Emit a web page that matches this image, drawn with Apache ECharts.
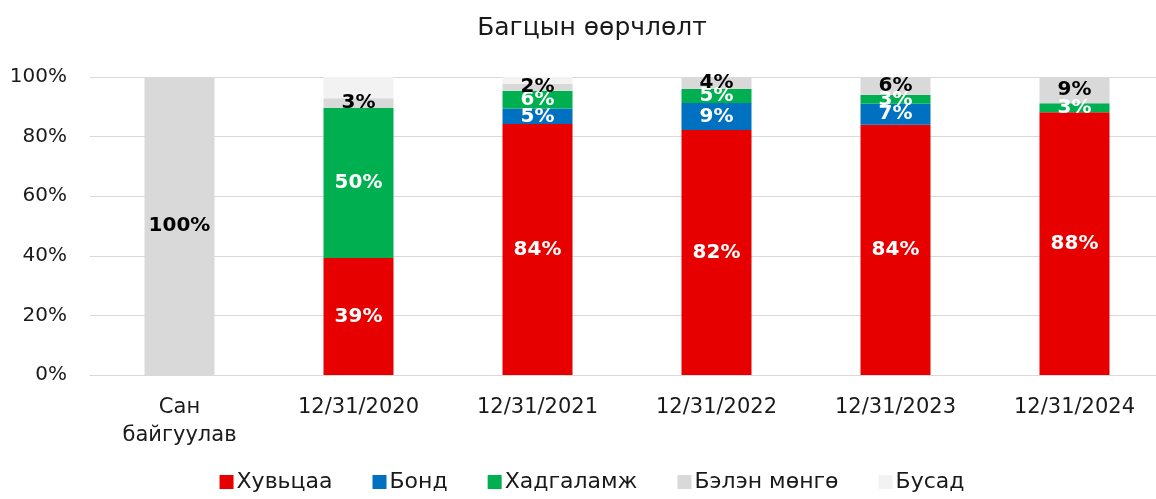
<!DOCTYPE html>
<html>
<head>
<meta charset="utf-8">
<script src="https://cdn.jsdelivr.net/npm/echarts@6/dist/echarts.min.js"></script>
<style>html,body{margin:0;padding:0;background:#fff;overflow:hidden}#c{width:1184px;height:499px}</style>
</head>
<body>
<div id="c"></div>
<script>
const categories = ['Сан\nбайгуулав', '12/31/2020', '12/31/2021', '12/31/2022', '12/31/2023', '12/31/2024'];
const seriesNames = ['Хувьцаа', 'Бонд', 'Хадгаламж', 'Бэлэн мөнгө', 'Бусад'];
const stocks   = [0, 39.3, 84.2, 82.2, 84, 88.2];
const bonds    = [0, 0, 5.2, 9.1, 7, 0];
const deposits = [0, 50.4, 6, 4.7, 3, 3];
const cash     = [100, 3.2, 2.3, 4, 6, 8.8];
const other    = [0, 7.1, 2.3, 0, 0, 0];
const yTicks = [0, 20, 40, 60, 80, 100];

const colors = ['#e60000', '#0070c0', '#00b050', '#d9d9d9', '#f2f2f2'];
const labelColors = ['#ffffff', '#ffffff', '#ffffff', '#000000', null];
const dataSets = [stocks, bonds, deposits, cash, other];
const FONT = 'DejaVu Sans';

const chart = echarts.init(document.getElementById('c'), null, {renderer: 'canvas'});
chart.setOption({
  backgroundColor: '#fff',
  animation: false,
  textStyle: {fontFamily: FONT},
  title: {
    text: 'Багцын өөрчлөлт', left: 'center', top: 11,
    textStyle: {fontFamily: FONT, fontSize: 25, fontWeight: 'normal', color: '#1a1a1a'}
  },
  legend: {
    bottom: 1, left: 'center', itemWidth: 14, itemHeight: 14, itemGap: 40, icon: 'rect',
    textStyle: {fontFamily: FONT, fontSize: 22, color: '#1a1a1a', padding: [0, 0, 0, -2]},
    data: seriesNames
  },
  grid: {left: 90, right: 20, top: 77, bottom: 124},
  xAxis: {
    type: 'category', data: categories,
    axisLine: {lineStyle: {color: '#d9d9d9', width: 1}},
    axisTick: {show: false},
    axisLabel: {fontFamily: FONT, fontSize: 21, color: '#1a1a1a', margin: 19, lineHeight: 28, interval: 0}
  },
  yAxis: {
    type: 'value', min: 0, max: 100, interval: 20,
    axisLabel: {fontFamily: FONT, fontSize: 20, color: '#1a1a1a', margin: 23, formatter: v => yTicks.includes(v) ? v + '%' : ''},
    splitLine: {lineStyle: {color: '#d9d9d9', width: 1}},
    axisLine: {show: false}, axisTick: {show: false}
  },
  series: seriesNames.map((name, i) => ({
    name, type: 'bar', stack: 'total', barWidth: 70,
    itemStyle: {color: colors[i]},
    label: {
      show: labelColors[i] !== null, position: 'inside',
      color: labelColors[i] || '#000', fontFamily: FONT, fontSize: 20, fontWeight: 'bold',
      formatter: p => p.value > 0 ? Math.round(p.value) + '%' : ''
    },
    data: dataSets[i]
  }))
});
</script>
</body>
</html>
